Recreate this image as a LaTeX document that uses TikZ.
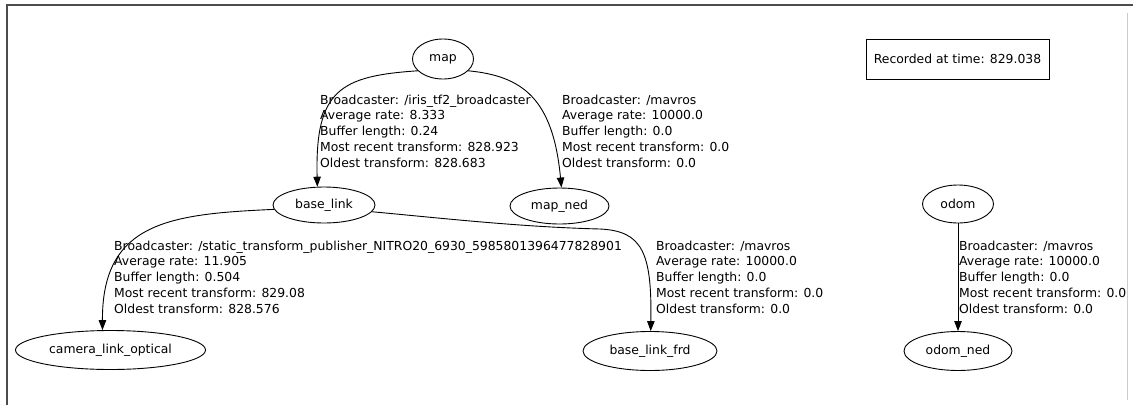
\documentclass[tikz,border=0pt]{standalone}
\usepackage{fontspec}
\setmainfont{DejaVu Sans}
\usetikzlibrary{shapes.geometric,arrows.meta}
\begin{document}
\begin{tikzpicture}[x=1pt,y=-1pt,
  frame/.style={draw, ellipse, inner sep=0pt, line width=0.9pt,
    font=\fontsize{12.4}{15}\selectfont},
  lbl/.style={anchor=north west, inner sep=0pt, align=left,
    font=\fontsize{12.4}{15.75}\selectfont},
  edge/.style={draw, line width=0.9pt, -{Triangle[length=10pt,width=7.5pt]}},
  stamp/.style={draw, rectangle, line width=0.9pt, inner sep=0pt,
    minimum width=183pt, minimum height=40pt,
    font=\fontsize{12.4}{15}\selectfont}]
  \useasboundingbox (0,0) rectangle (1133,405);
  % window edges
  \draw[line width=1.5pt, black!70] (1133,5) -- (7,5) -- (7,405);
  \draw[line width=1pt, black!20] (1127,13) -- (1127,400);

  % frames
  \node[frame, minimum width=61pt, minimum height=40pt] (map) at (443,59) {map};
  \node[frame, minimum width=102pt, minimum height=36pt] (base_link) at (324,205) {base\_link};
  \node[frame, minimum width=99pt, minimum height=36pt] (map_ned) at (559.5,206) {map\_ned};
  \node[frame, minimum width=71pt, minimum height=38pt] (odom) at (958,204) {odom};
  \node[frame, minimum width=190pt, minimum height=39pt] (camera) at (110.5,350) {camera\_link\_optical};
  \node[frame, minimum width=134pt, minimum height=39pt] (frd) at (650,351) {base\_link\_frd};
  \node[frame, minimum width=108pt, minimum height=39pt] (odom_ned) at (958,351) {odom\_ned};

  \node[stamp] (rec) at (957.5,59) {Recorded at time: 829.038};

  % transforms
  \path[edge] (map.205) .. controls (340,76) and (315,90) .. (base_link.110);
  \path[edge] (map.-25) .. controls (522,76) and (553,98) .. (map_ned.84);
  \path[edge] (base_link.185) .. controls (170,214) and (102,222) .. (camera.112);
  \path[edge] (base_link.-8) .. controls (440,218) and (520,227) .. (600,229)
     .. controls (642,231) and (652,252) .. (frd.88);
  \path[edge] (odom.south) -- (odom_ned.north);

  % transform details
  \node[lbl] (t1) at (320,94.5) {Broadcaster: /iris\_tf2\_broadcaster\\Average rate: 8.333\\Buffer length: 0.24\\Most recent transform: 828.923\\Oldest transform: 828.683};
  \node[lbl] (t2) at (562,94.5) {Broadcaster: /mavros\\Average rate: 10000.0\\Buffer length: 0.0\\Most recent transform: 0.0\\Oldest transform: 0.0};
  \node[lbl] (t3) at (114,240.5) {Broadcaster: /static\_transform\_publisher\_NITRO20\_6930\_5985801396477828901\\Average rate: 11.905\\Buffer length: 0.504\\Most recent transform: 829.08\\Oldest transform: 828.576};
  \node[lbl] (t4) at (656,240.5) {Broadcaster: /mavros\\Average rate: 10000.0\\Buffer length: 0.0\\Most recent transform: 0.0\\Oldest transform: 0.0};
  \node[lbl] (t5) at (959,240.5) {Broadcaster: /mavros\\Average rate: 10000.0\\Buffer length: 0.0\\Most recent transform: 0.0\\Oldest transform: 0.0};
\end{tikzpicture}
\end{document}
